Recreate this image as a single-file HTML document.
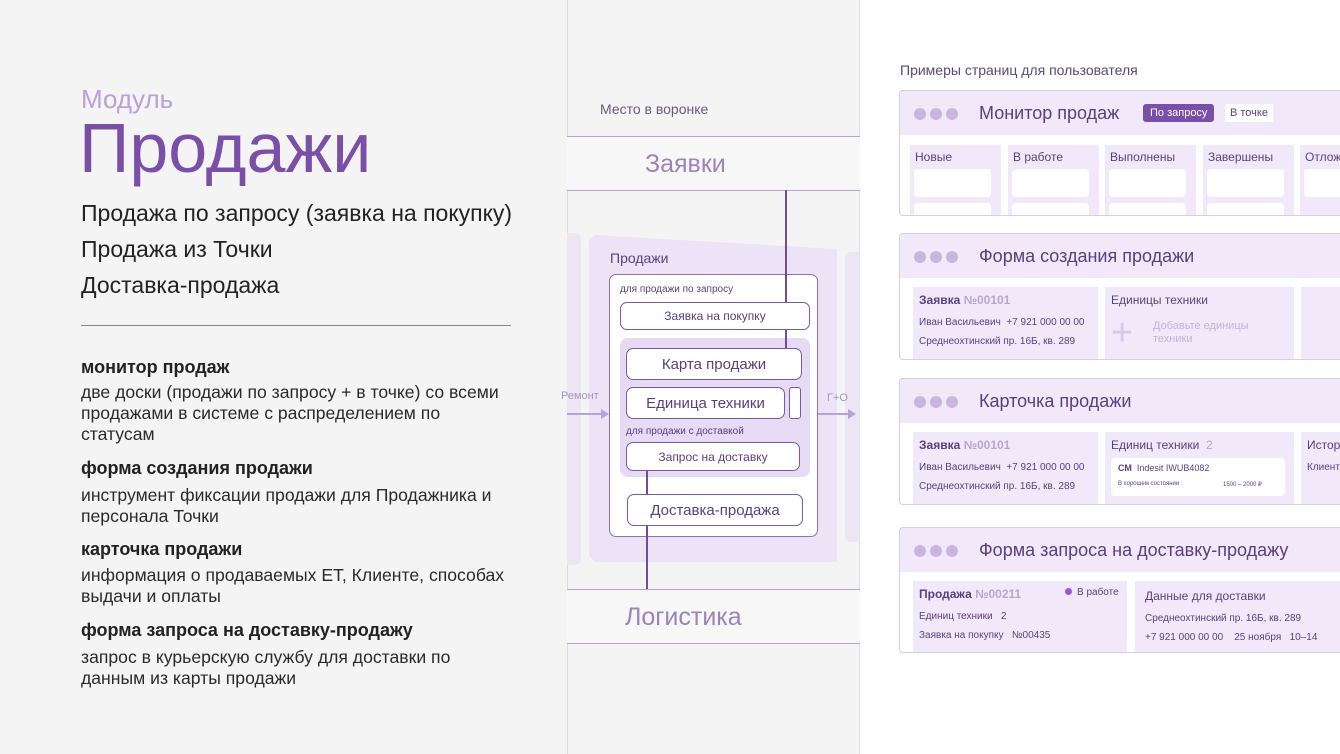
<!DOCTYPE html>
<html><head><meta charset="utf-8"><style>
*{margin:0;padding:0;box-sizing:border-box}
body{width:1340px;height:754px;position:relative;overflow:hidden;background:#fff;font-family:"Liberation Sans","Noto Sans CJK SC",sans-serif;color:#222}
.a{position:absolute;white-space:nowrap}
.left{left:0;top:0;width:567px;height:754px;background:#f4f4f4}
.mid{left:567px;top:0;width:293px;height:754px;background:#f4f4f4;border-left:1px solid #dcdcdc;border-right:1px solid #dcdcdc}
.h{font-weight:bold;font-size:18px;color:#222}
.p{font-size:17.6px;line-height:21px;color:#2a2a2a}
.box{position:absolute;border:1px solid #7a5a9e;border-radius:7px;background:#fff;color:#5a3f7c;text-align:center;white-space:nowrap}
.card{position:absolute;left:899px;width:460px;background:#fff;border:1px solid #d9cbea;border-radius:4px;overflow:hidden}
.hd{height:44px;background:#f1e9fa;position:relative}
.dots{position:absolute;left:14px;top:16px}
.dots i{display:inline-block;width:12px;height:12px;border-radius:6px;background:#c9b5e0;margin-right:4px}
.tt{position:absolute;left:79px;top:12px;font-size:18px;color:#5a3f7c}
.col{position:absolute;background:#f1e9fa}
.s{font-size:11px;color:#5a3f7c}
.g{color:#b9a5d2}
</style></head><body>
<div class="a left"></div>
<div class="a mid"></div>
<div class="a" style="left:81px;top:84px;font-size:26px;color:#b9a0d8">Модуль</div>
<div class="a" style="left:79px;top:108px;font-size:70px;color:#7a4fa8">Продажи</div>
<div class="a" style="left:81px;top:200px;font-size:23px;color:#222">Продажа по запросу (заявка на покупку)</div>
<div class="a" style="left:81px;top:236px;font-size:23px;color:#222">Продажа из Точки</div>
<div class="a" style="left:81px;top:272px;font-size:23px;color:#222">Доставка-продажа</div>
<div class="a" style="left:81px;top:325px;width:430px;height:1px;background:#888"></div>
<div class="a h" style="left:81px;top:357px">монитор продаж</div>
<div class="a p" style="left:81px;top:382px">две доски (продажи по запросу + в точке) со всеми<br>продажами в системе с распределением по<br>статусам</div>
<div class="a h" style="left:81px;top:458px">форма создания продажи</div>
<div class="a p" style="left:81px;top:485px">инструмент фиксации продажи для Продажника и<br>персонала Точки</div>
<div class="a h" style="left:81px;top:539px">карточка продажи</div>
<div class="a p" style="left:81px;top:565px">информация о продаваемых ЕТ, Клиенте, способах<br>выдачи и оплаты</div>
<div class="a h" style="left:81px;top:620px">форма запроса на доставку-продажу</div>
<div class="a p" style="left:81px;top:647px">запрос в курьерскую службу для доставки по<br>данным из карты продажи</div>

<!-- middle diagram -->
<div class="a" style="left:600px;top:101px;font-size:14px;color:#6a5a80">Место в воронке</div>
<div class="a" style="left:567px;top:136px;width:293px;height:55px;background:#f7f7f7;border-top:1px solid #b9a0d8;border-bottom:1px solid #b9a0d8"></div>
<div class="a" style="left:645px;top:150px;font-size:25px;color:#9a84b8">Заявки</div>
<div class="a" style="left:567px;top:589px;width:293px;height:55px;background:#f7f7f7;border-top:1px solid #b9a0d8;border-bottom:1px solid #b9a0d8"></div>
<div class="a" style="left:625px;top:603px;font-size:25px;color:#9a84b8">Логистика</div>
<div class="a" style="left:567px;top:233px;width:14px;height:332px;background:#ece6f4;border-radius:0 6px 6px 0"></div>
<div class="a" style="left:845px;top:252px;width:15px;height:290px;background:#ece6f4;border-radius:6px 0 0 6px"></div>
<svg class="a" style="left:589px;top:235px" width="250" height="330"><polygon points="6,0 248,14 248,327 6,327 0,320 0,6" fill="#ece3f7"/></svg>
<div class="a" style="left:610px;top:250px;font-size:14px;color:#5a3f7c">Продажи</div>
<div class="box" style="left:609px;top:274px;width:209px;height:263px;border-color:#8a74a8"></div>
<div class="a" style="left:620px;top:284px;font-size:10px;color:#5a3f7c">для продажи по запросу</div>
<div class="a" style="left:620px;top:338px;width:190px;height:139px;background:#e6daf5;border-radius:8px"></div>
<div class="a" style="left:785px;top:190px;width:2px;height:158px;background:#6e4e94"></div>
<div class="a" style="left:646px;top:470px;width:2px;height:119px;background:#6e4e94"></div>
<div class="box" style="left:620px;top:302px;width:190px;height:28px;font-size:12px;line-height:27px">Заявка на покупку</div>
<div class="box" style="left:626px;top:348px;width:176px;height:32px;font-size:15px;line-height:31px">Карта продажи</div>
<div class="box" style="left:626px;top:387px;width:159px;height:32px;font-size:15px;line-height:31px">Единица техники</div>
<div class="box" style="left:789px;top:387px;width:12px;height:32px;border-radius:3px"></div>
<div class="a" style="left:626px;top:426px;font-size:10px;color:#5a3f7c">для продажи с доставкой</div>
<div class="box" style="left:626px;top:442px;width:174px;height:29px;font-size:12px;line-height:28px">Запрос на доставку</div>
<div class="box" style="left:627px;top:494px;width:176px;height:32px;font-size:15px;line-height:31px">Доставка-продажа</div>
<div class="a" style="left:561px;top:390px;font-size:11px;color:#a795bd">Ремонт</div>
<div class="a" style="left:567px;top:413px;width:36px;height:2px;background:#b9a0d8"></div>
<svg class="a" style="left:601px;top:409px" width="8" height="10"><polygon points="0,0 8,5 0,10" fill="#b9a0d8"/></svg>
<div class="a" style="left:827px;top:392px;font-size:11px;color:#a795bd">Г+О</div>
<div class="a" style="left:818px;top:413px;width:32px;height:2px;background:#b9a0d8"></div>
<svg class="a" style="left:848px;top:409px" width="8" height="10"><polygon points="0,0 8,5 0,10" fill="#b9a0d8"/></svg>

<!-- right -->
<div class="a" style="left:900px;top:62px;font-size:14px;color:#5a4a70">Примеры страниц для пользователя</div>

<div class="card" style="top:90px;height:126px">
 <div class="hd"><div class="dots"><i></i><i></i><i></i></div><div class="tt">Монитор продаж</div>
 <div class="a" style="left:243px;top:13px;background:#7a4fa8;color:#fff;font-size:11px;padding:3px 7px;border-radius:3px">По запросу</div>
 <div class="a" style="left:325px;top:13px;background:#fff;color:#5a3f7c;font-size:11px;padding:3px 5px">В точке</div></div>
 <div class="col" style="left:10px;top:54px;width:91px;height:80px"><div class="a s" style="left:5px;top:5px;font-size:12px">Новые</div><div class="a" style="left:4px;top:24px;width:77px;height:28px;background:#fff;border-radius:4px"></div><div class="a" style="left:4px;top:58px;width:77px;height:20px;background:#fff;border-radius:4px"></div></div>
 <div class="col" style="left:108px;top:54px;width:91px;height:80px"><div class="a s" style="left:5px;top:5px;font-size:12px">В работе</div><div class="a" style="left:4px;top:24px;width:77px;height:28px;background:#fff;border-radius:4px"></div><div class="a" style="left:4px;top:58px;width:77px;height:20px;background:#fff;border-radius:4px"></div></div>
 <div class="col" style="left:205px;top:54px;width:91px;height:80px"><div class="a s" style="left:5px;top:5px;font-size:12px">Выполнены</div><div class="a" style="left:4px;top:24px;width:77px;height:28px;background:#fff;border-radius:4px"></div><div class="a" style="left:4px;top:58px;width:77px;height:20px;background:#fff;border-radius:4px"></div></div>
 <div class="col" style="left:303px;top:54px;width:91px;height:80px"><div class="a s" style="left:5px;top:5px;font-size:12px">Завершены</div><div class="a" style="left:4px;top:24px;width:77px;height:28px;background:#fff;border-radius:4px"></div><div class="a" style="left:4px;top:58px;width:77px;height:20px;background:#fff;border-radius:4px"></div></div>
 <div class="col" style="left:400px;top:54px;width:91px;height:80px"><div class="a s" style="left:5px;top:5px;font-size:12px">Отложены</div><div class="a" style="left:4px;top:24px;width:77px;height:28px;background:#fff;border-radius:4px"></div></div>
</div>

<div class="card" style="top:233px;height:127px">
 <div class="hd"><div class="dots"><i></i><i></i><i></i></div><div class="tt">Форма создания продажи</div></div>
 <div class="col" style="left:13px;top:53px;width:185px;height:80px"><div class="a s" style="left:6px;top:6px;font-size:12px;font-weight:bold">Заявка <span class="g">№00101</span></div><div class="a s" style="left:6px;top:30px;font-size:10px">Иван Васильевич &nbsp;+7 921 000 00 00</div><div class="a s" style="left:6px;top:49px;font-size:10px">Среднеохтинский пр. 16Б, кв. 289</div></div>
 <div class="col" style="left:205px;top:53px;width:189px;height:80px"><div class="a s" style="left:6px;top:6px;font-size:12px">Единицы техники</div><div class="a" style="left:6px;top:31px;font-size:38px;line-height:30px;color:#d7c8ea">+</div><div class="a" style="left:48px;top:33px;font-size:11px;color:#c3b2d9;line-height:13px">Добавьте единицы<br>техники</div></div>
 <div class="col" style="left:401px;top:53px;width:60px;height:80px"></div>
</div>

<div class="card" style="top:378px;height:127px">
 <div class="hd"><div class="dots"><i></i><i></i><i></i></div><div class="tt">Карточка продажи</div></div>
 <div class="col" style="left:13px;top:53px;width:185px;height:80px"><div class="a s" style="left:6px;top:6px;font-size:12px;font-weight:bold">Заявка <span class="g">№00101</span></div><div class="a s" style="left:6px;top:30px;font-size:10px">Иван Васильевич &nbsp;+7 921 000 00 00</div><div class="a s" style="left:6px;top:49px;font-size:10px">Среднеохтинский пр. 16Б, кв. 289</div></div>
 <div class="col" style="left:205px;top:53px;width:189px;height:80px"><div class="a s" style="left:6px;top:6px;font-size:12px">Единиц техники &nbsp;<span class="g">2</span></div><div class="a" style="left:6px;top:26px;width:174px;height:38px;background:#fff;border-radius:4px"><div class="a s" style="left:7px;top:5px;font-size:9px"><b>СМ</b>&nbsp; Indesit IWUB4082</div><div class="a s" style="left:7px;top:23px;font-size:6px">В хорошем состоянии</div><div class="a s" style="left:112px;top:23px;font-size:6px">1500 – 2000 ₽</div></div></div>
 <div class="col" style="left:401px;top:53px;width:60px;height:80px"><div class="a s" style="left:6px;top:6px;font-size:12px">История</div><div class="a s" style="left:6px;top:30px;font-size:10px">Клиент</div></div>
</div>

<div class="card" style="top:527px;height:126px">
 <div class="hd"><div class="dots"><i></i><i></i><i></i></div><div class="tt">Форма запроса на доставку-продажу</div></div>
 <div class="col" style="left:13px;top:53px;width:214px;height:80px"><div class="a s" style="left:6px;top:6px;font-size:12px;font-weight:bold">Продажа <span class="g">№00211</span></div><div class="a s" style="left:152px;top:6px;font-size:10px"><span style="display:inline-block;width:7px;height:7px;border-radius:4px;background:#9a5ad8;margin-right:5px"></span>В работе</div><div class="a s" style="left:6px;top:30px;font-size:10px">Единиц техники &nbsp;&nbsp;2</div><div class="a s" style="left:6px;top:49px;font-size:10px">Заявка на покупку &nbsp;&nbsp;№00435</div></div>
 <div class="col" style="left:235px;top:53px;width:230px;height:80px"><div class="a s" style="left:10px;top:8px;font-size:12px">Данные для доставки</div><div class="a s" style="left:10px;top:32px;font-size:10px">Среднеохтинский пр. 16Б, кв. 289</div><div class="a s" style="left:10px;top:51px;font-size:10px">+7 921 000 00 00 &nbsp;&nbsp;&nbsp;25 ноября &nbsp;&nbsp;10–14</div></div>
</div>
</body></html>
